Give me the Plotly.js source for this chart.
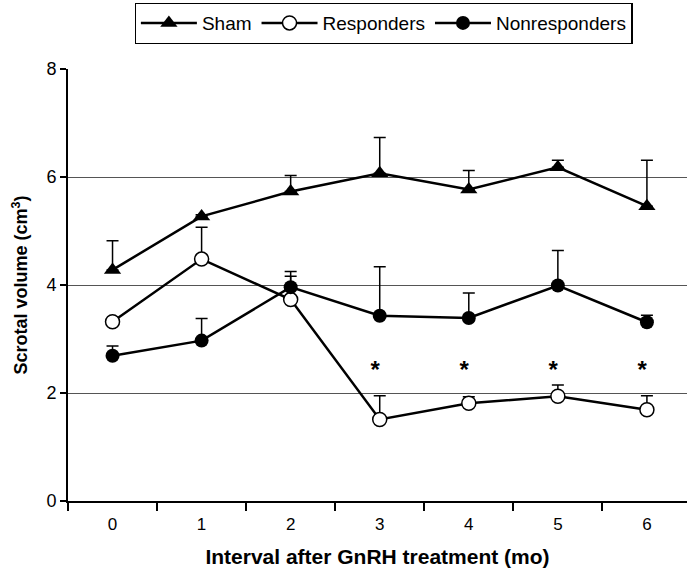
<!DOCTYPE html>
<html>
<head>
<meta charset="utf-8">
<script src="https://cdn.plot.ly/plotly-3.0.1.min.js"></script>
<style>html,body{margin:0;padding:0;background:#fff}#chart{width:687px;height:574px}</style>
</head>
<body>
<div id="chart"></div>
<script>
var months = ["0", "1", "2", "3", "4", "5", "6"];
var shamMean = [4.28, 5.27, 5.73, 6.07, 5.77, 6.18, 5.46];
var shamUpper = [4.82, 5.3, 6.03, 6.73, 6.12, 6.31, 6.31];
var respMean = [3.32, 4.48, 3.73, 1.51, 1.81, 1.94, 1.69];
var respUpper = [3.32, 5.07, 4.16, 1.95, 1.93, 2.15, 1.95];
var nonMean = [2.69, 2.97, 3.96, 3.43, 3.39, 3.99, 3.31];
var nonUpper = [2.87, 3.38, 4.25, 4.34, 3.85, 4.64, 3.44];
var starMonths = ["3", "4", "5", "6"];
var starY = [2.38, 2.38, 2.38, 2.38];

function up(u, m) { return u.map(function (v, i) { return Math.max(0, v - m[i]); }); }
function zeros(n) { return new Array(n).fill(0); }

var font = "Liberation Sans, Arial, sans-serif";
function err(u, m) {
  return {type: "data", symmetric: false, array: up(u, m), arrayminus: zeros(m.length),
          color: "#000", thickness: 1.5, width: 6};
}

var traces = [
  {x: months, y: shamMean, name: "Sham", type: "scatter", mode: "lines+markers",
   line: {color: "#000", width: 2.5},
   marker: {symbol: "triangle-up", size: 15, color: "#000"},
   error_y: err(shamUpper, shamMean)},
  {x: months, y: respMean, name: "Responders", type: "scatter", mode: "lines+markers",
   line: {color: "#000", width: 2.5},
   marker: {symbol: "circle", size: 14, color: "#fff", line: {color: "#000", width: 1.5}},
   error_y: err(respUpper, respMean)},
  {x: months, y: nonMean, name: "Nonresponders", type: "scatter", mode: "lines+markers",
   line: {color: "#000", width: 2.5},
   marker: {symbol: "circle", size: 14, color: "#000"},
   error_y: err(nonUpper, nonMean)},
  {x: starMonths, y: starY, type: "scatter", mode: "text", text: starMonths.map(function () { return "<b>*</b>"; }),
   textfont: {family: font, size: 24, color: "#000"}, showlegend: false, hoverinfo: "skip",
   textposition: "middle left"}
];

var layout = {
  width: 687, height: 574,
  margin: {l: 68, r: 0, t: 69, b: 73},
  paper_bgcolor: "#fff", plot_bgcolor: "#fff",
  font: {family: font, size: 17, color: "#000"},
  showlegend: true,
  legend: {orientation: "h", x: 0.51, xref: "paper", xanchor: "center", y: 0.995, yref: "container", yanchor: "top",
           bordercolor: "#000", borderwidth: 1.2, bgcolor: "#fff",
           font: {family: font, size: 19}, itemwidth: 56, tracegroupgap: 0},
  xaxis: {type: "category", range: [-0.5, 6.45], tickson: "boundaries",
          ticks: "outside", ticklen: 8, tickwidth: 2, tickcolor: "#000",
          showline: true, linecolor: "#000", linewidth: 2, showgrid: false, zeroline: false,
          tickfont: {family: font, size: 17}, ticklabelstandoff: 7,
          title: {text: "<b>Interval after GnRH treatment (mo)</b>", font: {family: font, size: 21}, standoff: 16}},
  yaxis: {range: [0, 8], tickvals: [0, 2, 4, 6, 8], ticks: "outside", ticklen: 6, tickwidth: 2, tickcolor: "#000",
          showline: true, linecolor: "#000", linewidth: 2, zeroline: false,
          showgrid: true, gridcolor: "#555", gridwidth: 1,
          tickfont: {family: font, size: 18},
          title: {text: "<b>Scrotal volume (cm<sup>3</sup>)</b>", font: {family: font, size: 18}, standoff: 14}}
};

Plotly.newPlot("chart", traces, layout, {staticPlot: true, displayModeBar: false});
</script>
</body>
</html>
